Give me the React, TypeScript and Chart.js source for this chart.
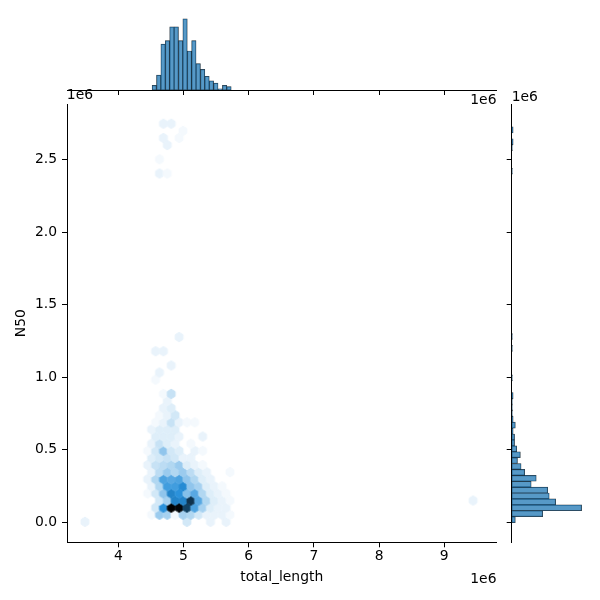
import React, { useEffect, useRef } from "react";
import { Chart, registerables } from "chart.js";

Chart.register(...registerables);

const FONT_FAMILY = "'DejaVu Sans', sans-serif";
const FONT_SIZE = 13.9;

// ---------- axes (lengths in units of 1e6) ----------
const xTickValues = [4, 5, 6, 7, 8, 9];
const yTickValues = [0, 0.5, 1.0, 1.5, 2.0, 2.5];
const xMin = 3.212;
const xMax = 9.802;
const yMin = -0.138;
const yMax = 2.883;

// ---------- hexbin cells: one entry per row of the hex lattice ----------
const hexRowY = [
  0.003, 0.052, 0.101, 0.15, 0.199, 0.248, 0.297, 0.346, 0.395, 0.444,
  0.493, 0.542, 0.591, 0.64, 0.689, 0.738, 0.787, 0.836, 0.885, 0.983,
  1.032, 1.081, 1.179, 1.277, 2.404, 2.502, 2.6, 2.649, 2.698, 2.747,
];
const hexRowX = [
  [3.488, 5.052, 5.413, 5.653],
  [4.51, 4.631, 4.751, 4.871, 4.992, 5.112, 5.232, 5.353, 5.473, 5.593, 5.713],
  [4.571, 4.691, 4.811, 4.932, 5.052, 5.172, 5.293, 5.413, 5.533, 5.653],
  [4.631, 4.751, 4.871, 4.992, 5.112, 5.232, 5.353, 5.473, 5.593, 5.713, 9.443],
  [4.45, 4.571, 4.691, 4.811, 4.932, 5.052, 5.172, 5.293, 5.413, 5.533, 5.653],
  [4.51, 4.631, 4.751, 4.871, 4.992, 5.112, 5.232, 5.353, 5.473, 5.593],
  [4.45, 4.571, 4.691, 4.811, 4.932, 5.052, 5.172, 5.293, 5.413],
  [4.51, 4.631, 4.751, 4.871, 4.992, 5.112, 5.232, 5.353, 5.713],
  [4.45, 4.571, 4.691, 4.811, 4.932, 5.052, 5.172, 5.293],
  [4.51, 4.631, 4.751, 4.871, 4.992, 5.112],
  [4.45, 4.571, 4.691, 4.811, 4.932, 5.172, 5.293],
  [4.51, 4.631, 4.751, 4.871, 5.112],
  [4.571, 4.691, 4.811, 4.932, 5.293],
  [4.51, 4.631, 4.751, 4.871],
  [4.571, 4.691, 4.811, 4.932, 5.052, 5.172],
  [4.631, 4.751, 4.871],
  [4.691, 4.811],
  [4.751],
  [4.691, 4.811],
  [4.571],
  [4.631],
  [4.811],
  [4.571, 4.691],
  [4.932],
  [4.631, 4.751],
  [4.631],
  [4.751],
  [4.691, 4.932],
  [4.992],
  [4.691, 4.811],
];
const hexRowCount = [
  [3, 5, 3, 3],
  [2, 10, 9, 2, 9, 8, 5, 3, 3, 3, 2],
  [5, 20, 40, 39, 31, 17, 9, 4, 3, 3],
  [5, 9, 22, 22, 33, 16, 8, 4, 3, 2, 3],
  [2, 5, 11, 22, 20, 12, 16, 8, 4, 3, 2],
  [3, 8, 18, 18, 21, 11, 9, 4, 3, 2],
  [3, 8, 17, 16, 17, 11, 8, 4, 3],
  [3, 7, 10, 8, 10, 7, 4, 3, 2],
  [3, 6, 7, 8, 10, 4, 3, 2],
  [4, 5, 6, 5, 3, 3],
  [2, 5, 11, 5, 4, 3, 2],
  [3, 6, 4, 3, 2],
  [4, 4, 4, 3, 3],
  [3, 4, 4, 4],
  [2, 3, 6, 3, 2, 2],
  [2, 3, 5],
  [3, 4],
  [3],
  [2, 6],
  [2],
  [3],
  [3],
  [3, 3],
  [3],
  [3, 2],
  [2],
  [3],
  [3, 2],
  [2],
  [3, 3],
];
const hexStepX = 0.1203; // horizontal lattice spacing
const hexStepY = 0.098; // vertical lattice period (two rows)

// ---------- marginal histograms ----------
const topBinStart = 4.518;
const topBinWidth = 0.0674;
const topCounts = [4, 13, 40, 43, 55, 55, 43, 62, 34, 43, 23, 18, 12, 8, 6, 1, 4, 3];
const topCountMax = 66;

const rightBinStart = -0.002;
const rightBinWidth = 0.0407;
const rightCounts = [
  5, 43, 97, 61, 52, 50, 27, 34, 18, 13, 8, 12, 7, 4, 4, 2, 5, 2, 1, 1, 1, 2, 0, 0, 1, 0, 0, 0, 0, 1, 0, 1,
  0, 0, 0, 0, 0, 0, 0, 0, 0, 0, 0, 0, 0, 0, 0, 0, 0, 0, 0, 0, 0, 0, 0, 0, 0, 0, 0,
  1, 0, 0, 0, 1, 2, 0, 2,
];
const rightCountMax = 105;

// ---------- helpers ----------
const hexMax = Math.max(...hexRowCount.flat());
function hexColor(c: number): string {
  const l = 1 - (c - 1) / (hexMax - 1);
  return `hsl(205, 70.5%, ${(l * 100).toFixed(2)}%)`;
}

const hexCache = new Map<string, HTMLCanvasElement>();
function hexImage(color: string, w: number, sy: number): HTMLCanvasElement {
  const key = `${color}|${w.toFixed(2)}|${sy.toFixed(2)}`;
  const cached = hexCache.get(key);
  if (cached) return cached;
  const c = document.createElement("canvas");
  const W = 2 * Math.ceil(w / 2 + 2);
  const H = 2 * Math.ceil(sy / 3 + 2);
  c.width = W;
  c.height = H;
  const g = c.getContext("2d")!;
  const cx = W / 2;
  const cy = H / 2;
  g.beginPath();
  g.moveTo(cx + w / 2, cy - sy / 6);
  g.lineTo(cx + w / 2, cy + sy / 6);
  g.lineTo(cx, cy + sy / 3);
  g.lineTo(cx - w / 2, cy + sy / 6);
  g.lineTo(cx - w / 2, cy - sy / 6);
  g.lineTo(cx, cy - sy / 3);
  g.closePath();
  g.fillStyle = color;
  g.fill();
  g.strokeStyle = color;
  g.lineWidth = 1.0;
  g.stroke();
  hexCache.set(key, c);
  return c;
}

const font = { family: FONT_FAMILY, size: FONT_SIZE };

function axisGrid() {
  return {
    display: true,
    drawOnChartArea: false,
    drawTicks: true,
    tickLength: 5,
    tickColor: "#000",
    tickWidth: 1,
    color: "#000",
    offset: false,
  };
}
const axisBorder = { display: true, color: "#000", width: 1 };

export default function App() {
  const mainRef = useRef<HTMLCanvasElement>(null);
  const topRef = useRef<HTMLCanvasElement>(null);
  const rightRef = useRef<HTMLCanvasElement>(null);

  useEffect(() => {
    const charts: Chart[] = [];

    const hexPoints: { x: number; y: number; c: number }[] = [];
    hexRowY.forEach((y, r) => {
      hexRowX[r].forEach((x, k) => hexPoints.push({ x, y, c: hexRowCount[r][k] }));
    });

    // ---------- main hexbin ----------
    charts.push(
      new Chart(mainRef.current!, {
        type: "scatter",
        data: {
          datasets: [
            {
              data: hexPoints as any,
              pointRadius: 4,
              pointHoverRadius: 4,
              pointStyle: ((ctx: any) => {
                const chart = ctx.chart;
                const xs = chart.scales.x;
                const ys = chart.scales.y;
                if (!xs || !ys || !ctx.raw) return "circle";
                const w = Math.abs(xs.getPixelForValue(hexStepX) - xs.getPixelForValue(0));
                const sy = Math.abs(ys.getPixelForValue(hexStepY) - ys.getPixelForValue(0));
                return hexImage(hexColor(ctx.raw.c), w, sy);
              }) as any,
            },
          ],
        },
        options: {
          responsive: false,
          animation: false,
          devicePixelRatio: 1,
          events: [],
          layout: { padding: { left: 0, top: 104, right: 103.5, bottom: 0 } },
          plugins: { legend: { display: false }, tooltip: { enabled: false } },
          scales: {
            x: {
              type: "linear",
              min: xMin,
              max: xMax,
              afterBuildTicks: (s: any) => {
                s.ticks = xTickValues.map((v) => ({ value: v }));
              },
              afterFit: (s: any) => {
                s.height = 57.7;
              },
              grid: axisGrid() as any,
              border: axisBorder,
              ticks: {
                color: "#000",
                font,
                padding: 1,
                autoSkip: false,
                maxRotation: 0,
                callback: (v: any) => String(v),
              },
              title: {
                display: true,
                text: "total_length",
                color: "#000",
                font,
                padding: { top: 0, bottom: 14.7 },
              },
            },
            y: {
              type: "linear",
              min: yMin,
              max: yMax,
              afterBuildTicks: (s: any) => {
                s.ticks = yTickValues.map((v) => ({ value: v }));
              },
              afterFit: (s: any) => {
                s.width = 67;
              },
              grid: axisGrid() as any,
              border: axisBorder,
              ticks: {
                color: "#000",
                font,
                padding: 5,
                autoSkip: false,
                callback: (v: any) => Number(v).toFixed(1),
              },
              title: {
                display: true,
                text: "N50",
                color: "#000",
                font,
                padding: { top: 12.7, bottom: 0 },
              },
            },
          },
        },
      })
    );

    const barFill = "rgba(31,119,180,0.75)";
    const barEdge = "rgba(0,0,0,0.8)";

    // ---------- top marginal histogram ----------
    const topData = topCounts.map((n, i) => ({ x: topBinStart + topBinWidth * (i + 0.5), y: n }));
    charts.push(
      new Chart(topRef.current!, {
        type: "bar",
        data: {
          datasets: [
            {
              data: topData as any,
              backgroundColor: barFill,
              borderColor: barEdge,
              borderWidth: 0.5,
              borderSkipped: false,
              barPercentage: 1,
              categoryPercentage: 1,
            },
          ],
        },
        options: {
          responsive: false,
          animation: false,
          devicePixelRatio: 1,
          events: [],
          layout: { padding: { left: 67, top: 14.3, right: 103.5, bottom: 500 } },
          plugins: { legend: { display: false }, tooltip: { enabled: false } },
          scales: {
            x: {
              type: "linear",
              min: xMin,
              max: xMax,
              offset: false,
              afterBuildTicks: (s: any) => {
                s.ticks = xTickValues.map((v) => ({ value: v }));
              },
              afterFit: (s: any) => {
                s.height = 10;
              },
              grid: axisGrid() as any,
              border: axisBorder,
              ticks: { display: false },
            },
            y: { type: "linear", display: false, min: 0, max: topCountMax },
          },
        },
      })
    );

    // ---------- right marginal histogram ----------
    const rightData = rightCounts.map((n, i) => ({ y: rightBinStart + rightBinWidth * (i + 0.5), x: n }));
    charts.push(
      new Chart(rightRef.current!, {
        type: "bar",
        data: {
          datasets: [
            {
              data: rightData as any,
              backgroundColor: barFill,
              borderColor: barEdge,
              borderWidth: 0.5,
              borderSkipped: false,
              barPercentage: 1,
              categoryPercentage: 1,
            },
          ],
        },
        options: {
          indexAxis: "y",
          responsive: false,
          animation: false,
          devicePixelRatio: 1,
          events: [],
          layout: { padding: { left: 506.7, top: 104, right: 12.6, bottom: 57.7 } },
          plugins: { legend: { display: false }, tooltip: { enabled: false } },
          scales: {
            y: {
              type: "linear",
              position: "left",
              min: yMin,
              max: yMax,
              offset: false,
              afterBuildTicks: (s: any) => {
                s.ticks = yTickValues.map((v) => ({ value: v }));
              },
              afterFit: (s: any) => {
                s.width = 5;
              },
              grid: axisGrid() as any,
              border: axisBorder,
              ticks: { display: false },
            },
            x: { type: "linear", display: false, min: 0, max: rightCountMax },
          },
        },
      })
    );

    return () => charts.forEach((c) => c.destroy());
  }, []);

  const canvasStyle: React.CSSProperties = { position: "absolute", left: 0, top: 0 };
  const textStyle: React.CSSProperties = {
    position: "absolute",
    fontFamily: FONT_FAMILY,
    fontSize: FONT_SIZE,
    lineHeight: `${FONT_SIZE}px`,
    color: "#000",
    whiteSpace: "nowrap",
  };

  return (
    <div
      style={{
        position: "fixed",
        left: 0,
        top: 0,
        width: 600,
        height: 600,
        background: "#fff",
        overflow: "hidden",
      }}
    >
      <canvas ref={mainRef} width={600} height={600} style={canvasStyle} />
      <canvas ref={topRef} width={600} height={600} style={canvasStyle} />
      <canvas ref={rightRef} width={600} height={600} style={canvasStyle} />
      <div style={{ ...textStyle, left: 66.8, top: 88.2 }}>1e6</div>
      <div style={{ ...textStyle, right: 103.5, top: 93.2 }}>1e6</div>
      <div style={{ ...textStyle, left: 511.7, top: 89.7 }}>1e6</div>
      <div style={{ ...textStyle, right: 103.5, top: 571.5 }}>1e6</div>
    </div>
  );
}
